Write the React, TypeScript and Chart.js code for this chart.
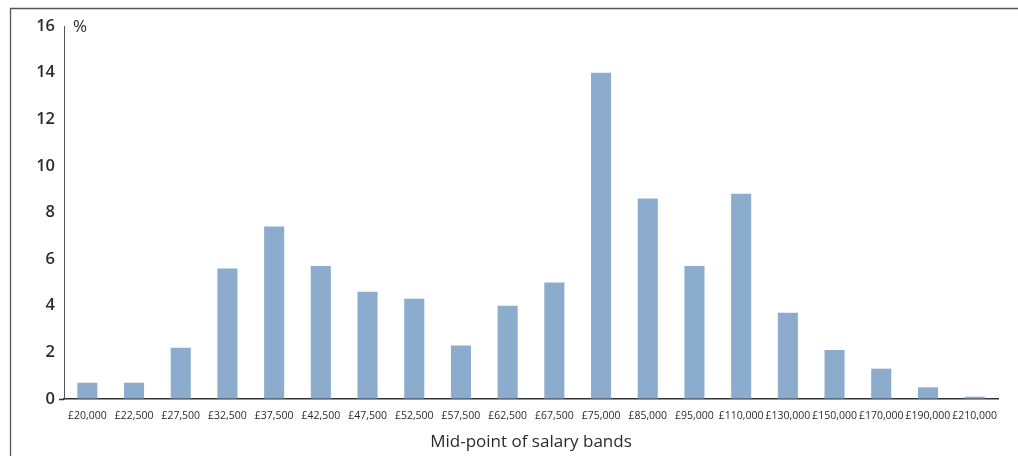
import { useEffect, useRef } from "react";
import { Chart, registerables } from "chart.js";
import type { ChartConfiguration, Plugin } from "chart.js";

Chart.register(...registerables);

const salaryBands = [
  "£20,000",
  "£22,500",
  "£27,500",
  "£32,500",
  "£37,500",
  "£42,500",
  "£47,500",
  "£52,500",
  "£57,500",
  "£62,500",
  "£67,500",
  "£75,000",
  "£85,000",
  "£95,000",
  "£110,000",
  "£130,000",
  "£150,000",
  "£170,000",
  "£190,000",
  "£210,000",
];

const sharePct = [
  0.7, 0.7, 2.2, 5.6, 7.4, 5.7, 4.6, 4.3, 2.3, 4.0, 5.0, 14.0, 8.6, 5.7, 8.8,
  3.7, 2.1, 1.3, 0.5, 0.1,
];

const yTicks = [0, 2, 4, 6, 8, 10, 12, 14, 16];

const FONT = "'Open Sans', 'Noto Sans', sans-serif";
const TEXT = "#2b2b2b";

// frame round the figure plus the "%" unit next to the y axis
const framePlugin: Plugin<"bar"> = {
  id: "frame",
  afterDraw(chart) {
    const { ctx, chartArea } = chart;
    ctx.save();
    ctx.strokeStyle = "#555555";
    ctx.lineWidth = 1.3;
    ctx.beginPath();
    ctx.moveTo(10.5, chart.height);
    ctx.lineTo(10.5, 8.5);
    ctx.lineTo(chart.width, 8.5);
    ctx.stroke();

    ctx.fillStyle = TEXT;
    ctx.font = `500 17px ${FONT}`;
    ctx.textAlign = "left";
    ctx.textBaseline = "middle";
    ctx.fillText("%", chartArea.left + 9, chartArea.top + 1);
    ctx.restore();
  },
};

export default function App() {
  const canvasRef = useRef<HTMLCanvasElement>(null);
  const chartRef = useRef<Chart<"bar"> | null>(null);

  useEffect(() => {
    if (!canvasRef.current) return;

    if (chartRef.current) {
      chartRef.current.destroy();
    }

    const config: ChartConfiguration<"bar"> = {
      type: "bar",
      data: {
        labels: salaryBands,
        datasets: [
          {
            label: "Share of jobs",
            data: sharePct,
            backgroundColor: "#8CACCD",
            borderWidth: 0,
            barPercentage: 0.43,
            categoryPercentage: 1,
          },
        ],
      },
      options: {
        responsive: true,
        maintainAspectRatio: false,
        animation: false,
        layout: {
          padding: { left: 0, right: 20, top: 26, bottom: 0 },
        },
        plugins: {
          legend: { display: false },
          tooltip: { enabled: false },
        },
        scales: {
          x: {
            grid: { display: false, drawTicks: false },
            border: { display: true, color: "#333333", width: 1.5 },
            ticks: {
              color: TEXT,
              font: { family: FONT, size: 10.5, weight: 500 },
              padding: 11,
              maxRotation: 0,
              autoSkip: false,
            },
            title: {
              display: true,
              text: "Mid-point of salary bands",
              color: TEXT,
              font: { family: FONT, size: 17, weight: 500 },
              padding: { top: 0, bottom: 4 },
            },
            afterFit(scale) {
              scale.height = 57;
            },
          },
          y: {
            min: 0,
            max: 16,
            afterBuildTicks(scale) {
              scale.ticks = yTicks.map((v) => ({ value: v }));
            },
            grid: {
              drawOnChartArea: false,
              drawTicks: true,
              tickLength: 5,
              tickWidth: 1.5,
              tickColor: (c) =>
                c.tick && c.tick.value === 0 ? "#333333" : "rgba(0,0,0,0)",
            },
            border: { display: true, color: "#555555", width: 1 },
            ticks: {
              color: TEXT,
              font: { family: FONT, size: 16.5, weight: 600 },
              padding: 4,
            },
            afterFit(scale) {
              scale.width = 64;
            },
          },
        },
      },
      plugins: [framePlugin],
    };

    chartRef.current = new Chart(canvasRef.current, config);

    return () => {
      if (chartRef.current) {
        chartRef.current.destroy();
        chartRef.current = null;
      }
    };
  }, []);

  return (
    <div
      style={{
        position: "fixed",
        left: 0,
        top: 0,
        width: 1018,
        height: 456,
        background: "#ffffff",
      }}
    >
      <canvas ref={canvasRef}></canvas>
    </div>
  );
}
